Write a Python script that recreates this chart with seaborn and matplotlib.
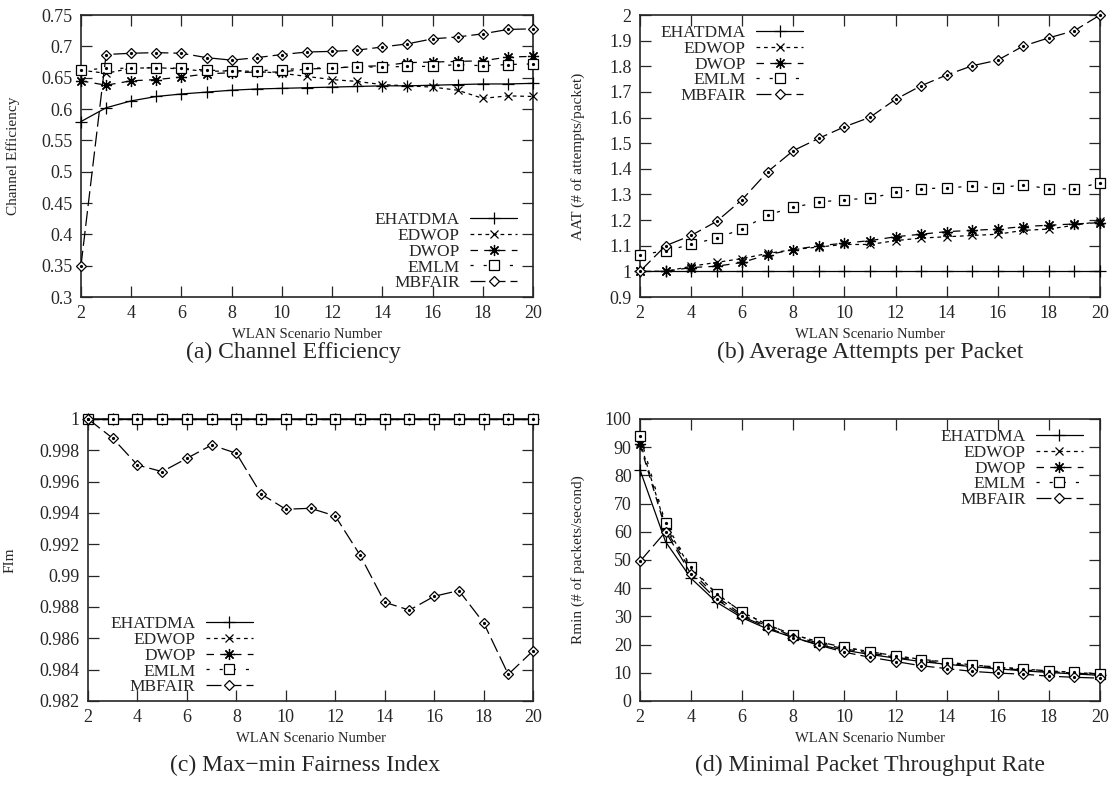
import numpy as np
import pandas as pd
import matplotlib
matplotlib.use("Agg")
import matplotlib.pyplot as plt
from matplotlib.ticker import FuncFormatter, MultipleLocator
import seaborn as sns

# --- 1. DATA ---
SCENARIOS = list(range(2, 21))
SCHEMES = ["EHATDMA", "EDWOP", "DWOP", "EMLM", "MBFAIR"]

# (a) Channel Efficiency
EFF_EHATDMA = [0.580, 0.602, 0.613, 0.620, 0.624, 0.627, 0.630, 0.632, 0.633, 0.634,
               0.635, 0.636, 0.637, 0.637, 0.638, 0.639, 0.640, 0.640, 0.641]
EFF_EDWOP = [0.662, 0.657, 0.665, 0.666, 0.664, 0.660, 0.661, 0.660, 0.657, 0.652,
             0.647, 0.644, 0.639, 0.637, 0.635, 0.630, 0.617, 0.621, 0.620]
EFF_DWOP = [0.645, 0.638, 0.645, 0.647, 0.651, 0.656, 0.658, 0.659, 0.659, 0.664,
            0.665, 0.668, 0.669, 0.674, 0.675, 0.676, 0.677, 0.683, 0.684]
EFF_EMLM = [0.662, 0.665, 0.665, 0.666, 0.665, 0.662, 0.661, 0.661, 0.663, 0.665,
            0.666, 0.667, 0.667, 0.668, 0.668, 0.671, 0.669, 0.671, 0.672]
EFF_MBFAIR = [0.350, 0.687, 0.689, 0.690, 0.689, 0.682, 0.678, 0.682, 0.687, 0.691,
              0.692, 0.694, 0.699, 0.704, 0.712, 0.715, 0.720, 0.727, 0.728]

# (b) Average Attempts per Packet
AAT_EHATDMA = [1.0] * 19
AAT_EDWOP = [1.0, 1.0, 1.02, 1.035, 1.05, 1.07, 1.085, 1.095, 1.105, 1.105,
             1.12, 1.13, 1.135, 1.14, 1.145, 1.16, 1.165, 1.18, 1.195]
AAT_DWOP = [1.0, 1.0, 1.015, 1.02, 1.035, 1.065, 1.085, 1.10, 1.11, 1.12,
            1.135, 1.145, 1.155, 1.16, 1.165, 1.175, 1.18, 1.185, 1.19]
AAT_EMLM = [1.065, 1.08, 1.105, 1.13, 1.165, 1.22, 1.25, 1.27, 1.28, 1.285,
            1.308, 1.322, 1.326, 1.332, 1.325, 1.338, 1.322, 1.322, 1.345]
AAT_MBFAIR = [1.0, 1.10, 1.14, 1.195, 1.28, 1.389, 1.471, 1.519, 1.564, 1.601,
              1.671, 1.724, 1.766, 1.802, 1.824, 1.879, 1.911, 1.939, 2.0]

# (c) Max-min Fairness Index
FIM_EHATDMA = [1.0] * 19
FIM_EDWOP = [1.0] * 19
FIM_DWOP = [1.0] * 19
FIM_EMLM = [1.0] * 19
FIM_MBFAIR = [1.0, 0.99877, 0.99706, 0.99664, 0.99749, 0.99834, 0.99781, 0.99521, 0.99424, 0.99430,
              0.99381, 0.99132, 0.98830, 0.98780, 0.98868, 0.98905, 0.98700, 0.98370, 0.98520]

# (d) Minimal Packet Throughput Rate
RMIN_EHATDMA = [82, 56.5, 43.5, 35, 29.5, 25.5, 22.5, 20, 18, 16.5,
                15.2, 14, 13, 12.2, 11.4, 10.7, 10.1, 9.6, 9.1]
RMIN_EDWOP = [92, 62, 47, 38, 31.5, 27, 23.5, 21, 19, 17.5,
              16, 14.8, 13.8, 12.8, 12, 11.3, 10.7, 10.1, 9.6]
RMIN_DWOP = [91, 61, 46, 37, 30.5, 26.5, 23, 20.5, 18.5, 17,
             15.5, 14.3, 13.3, 12.4, 11.6, 11, 10.4, 9.9, 9.4]
RMIN_EMLM = [94, 63, 47.5, 38, 31.5, 27, 23.5, 21, 19, 17.5,
             16, 14.7, 13.6, 12.7, 12, 11.3, 10.7, 10.2, 9.7]
RMIN_MBFAIR = [49.5, 60, 45, 36, 30, 26, 22.5, 19.8, 17.3, 15.5,
               14, 12.5, 11.5, 10.5, 9.9, 9.5, 8.8, 8.4, 8.1]

# --- 2. STYLE ---
sns.set_style("ticks")
plt.rcParams["font.family"] = ["Liberation Serif", "DejaVu Serif"]

STYLE = {
    "EHATDMA": dict(marker="+", linestyle="-", markersize=8),
    "EDWOP": dict(marker="x", linestyle=(0, (3, 3)), markersize=6),
    "DWOP": dict(marker=(8, 2, 0), linestyle=(0, (6, 5)), markersize=8),
    "EMLM": dict(marker="s", linestyle=(0, (2.5, 8)), markersize=6.5, markerfacecolor="white"),
    "MBFAIR": dict(marker="D", linestyle=(0, (12, 4)), markersize=5, markerfacecolor="white"),
}


def draw_panel(ax, series, ylim, ystep, ylabel, ylab_x, leg_loc, leg_anchor):
    df = pd.DataFrame({"x": np.tile(SCENARIOS, len(SCHEMES)),
                       "y": np.concatenate([series[s] for s in SCHEMES]),
                       "scheme": np.repeat(SCHEMES, len(SCENARIOS))})
    for s in SCHEMES:
        sub = df[df["scheme"] == s]
        st = STYLE[s]
        sns.lineplot(data=sub, x="x", y="y", ax=ax, color="black", lw=0.9,
                     marker=st["marker"], linestyle=st["linestyle"], ms=st["markersize"],
                     mfc=st.get("markerfacecolor", "black"), mec="black", mew=0.9,
                     label=s, clip_on=False, zorder=3)
        if st["marker"] in ("s", "D"):
            # gnuplot-style dot in the middle of open points
            ax.plot(sub["x"], sub["y"], ls="none", marker="o", ms=1.3, color="black",
                    clip_on=False, zorder=4)
    ax.set_xlim(2, 20)
    ax.set_ylim(*ylim)
    ax.xaxis.set_major_locator(MultipleLocator(2))
    ax.yaxis.set_major_locator(MultipleLocator(ystep))
    ax.yaxis.set_major_formatter(FuncFormatter(lambda v, p: f"{v:.4g}"))
    ax.tick_params(direction="in", top=True, right=True, length=8, width=0.9,
                   labelsize=13, pad=6)
    for sp in ax.spines.values():
        sp.set_linewidth(1.2)
        sp.set_visible(True)
    ax.set_xlabel("WLAN Scenario Number", fontsize=10.5)
    ax.set_ylabel(ylabel, fontsize=11)
    ax.xaxis.set_label_coords(0.5, -0.11)
    ax.yaxis.set_label_coords(ylab_x, 0.5)
    leg = ax.legend(loc=leg_loc, bbox_to_anchor=leg_anchor, frameon=False,
                    markerfirst=False, fontsize=12.5, labelspacing=-0.02,
                    handlelength=2.7, handletextpad=0.6, borderpad=0, borderaxespad=0)
    return leg


fig = plt.figure(figsize=(11.2, 7.87), dpi=100)
ax_a = fig.add_axes([0.0723, 0.6226, 0.4036, 0.3583])
ax_b = fig.add_axes([0.5714, 0.6226, 0.4107, 0.3583])
ax_c = fig.add_axes([0.0786, 0.1093, 0.3973, 0.3583])
ax_d = fig.add_axes([0.5714, 0.1093, 0.4107, 0.3583])

draw_panel(ax_a, dict(zip(SCHEMES, [EFF_EHATDMA, EFF_EDWOP, EFF_DWOP, EFF_EMLM, EFF_MBFAIR])),
           (0.3, 0.75), 0.05, "Channel Efficiency", -0.135, "lower right", (0.965, 0.02))
draw_panel(ax_b, dict(zip(SCHEMES, [AAT_EHATDMA, AAT_EDWOP, AAT_DWOP, AAT_EMLM, AAT_MBFAIR])),
           (0.9, 2.0), 0.1, "AAT (# of attempts/packet)", -0.12, "upper left", (0.045, 0.965))
draw_panel(ax_c, dict(zip(SCHEMES, [FIM_EHATDMA, FIM_EDWOP, FIM_DWOP, FIM_EMLM, FIM_MBFAIR])),
           (0.982, 1.0), 0.002, "FIm", -0.16, "lower left", (0.05, 0.02))
draw_panel(ax_d, dict(zip(SCHEMES, [RMIN_EHATDMA, RMIN_EDWOP, RMIN_DWOP, RMIN_EMLM, RMIN_MBFAIR])),
           (0, 100), 10, "Rmin (# of packets/second)", -0.12, "upper right", (0.963, 0.965))

fig.text(0.262, 1 - 352 / 787, "(a) Channel Efficiency", ha="center", va="center", fontsize=17)
fig.text(0.777, 1 - 352 / 787, "(b) Average Attempts per Packet", ha="center", va="center", fontsize=17)
fig.text(0.272, 1 - 765 / 787, "(c) Max\u2212min Fairness Index", ha="center", va="center", fontsize=17)
fig.text(0.777, 1 - 765 / 787, "(d) Minimal Packet Throughput Rate", ha="center", va="center", fontsize=17)

fig.savefig("out.png", dpi=100)
